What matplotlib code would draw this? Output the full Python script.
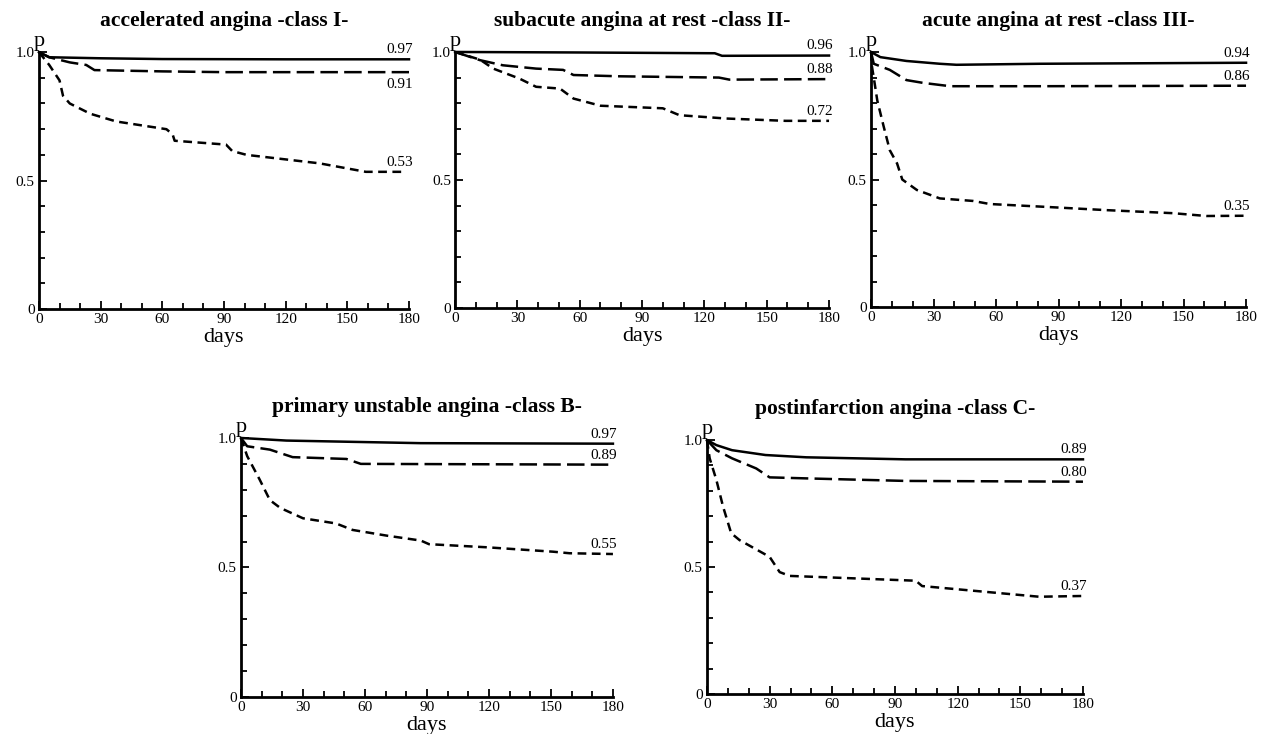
import numpy as np
import matplotlib
matplotlib.use('Agg')
import matplotlib.pyplot as plt
from matplotlib.ticker import MultipleLocator

plt.rcParams['font.family'] = ['Liberation Serif', 'DejaVu Serif']

titles = ['accelerated angina -class I-',
          'subacute angina at rest -class II-',
          'acute angina at rest -class III-',
          'primary unstable angina -class B-',
          'postinfarction angina -class C-']

# (days, survival): solid, long dash, short dash
p1_solid_x = [0, 5, 30, 60, 120, 180]
p1_solid_y = [1.0, 0.98, 0.976, 0.973, 0.972, 0.972]
p1_long_x = [0, 5, 15, 23, 27, 60, 90, 180]
p1_long_y = [1.0, 0.98, 0.96, 0.95, 0.93, 0.925, 0.922, 0.922]
p1_short_x = [0, 5, 10, 11.7, 15, 25, 37.6, 62, 65, 66, 91, 94, 101, 136.5, 159, 178]
p1_short_y = [1.0, 0.95, 0.89, 0.83, 0.80, 0.76, 0.73, 0.70, 0.68, 0.655, 0.64, 0.615, 0.60, 0.567, 0.534, 0.534]

p2_solid_x = [0, 60, 125, 128.5, 180]
p2_solid_y = [1.0, 0.998, 0.995, 0.985, 0.986]
p2_long_x = [0, 12, 23, 39, 52, 57, 79, 127, 132, 180]
p2_long_y = [1.0, 0.968, 0.948, 0.935, 0.93, 0.91, 0.905, 0.90, 0.892, 0.894]
p2_short_x = [0, 12, 18.4, 31, 39, 50.5, 57, 70, 100, 108, 130.6, 159, 180]
p2_short_y = [1.0, 0.97, 0.935, 0.896, 0.864, 0.857, 0.818, 0.79, 0.78, 0.753, 0.74, 0.731, 0.731]

p3_solid_x = [0, 4.5, 17, 33, 41, 81, 180]
p3_solid_y = [1.0, 0.98, 0.965, 0.954, 0.95, 0.954, 0.958]
p3_long_x = [0, 1.3, 9, 17, 25, 38, 81, 180]
p3_long_y = [1.0, 0.954, 0.93, 0.89, 0.879, 0.866, 0.866, 0.868]
p3_short_x = [0, 0.5, 1.3, 3, 6, 9, 12.5, 15, 22, 33, 49, 57, 81, 113, 145, 161, 180]
p3_short_y = [1.0, 0.94, 0.90, 0.81, 0.71, 0.615, 0.563, 0.50, 0.459, 0.426, 0.416, 0.404, 0.394, 0.38, 0.368, 0.357, 0.358]

p4_solid_x = [0, 22, 87, 180]
p4_solid_y = [1.0, 0.99, 0.98, 0.978]
p4_long_x = [0, 3, 14, 25, 51, 58, 180]
p4_long_y = [1.0, 0.968, 0.955, 0.926, 0.919, 0.90, 0.897]
p4_short_x = [0, 3, 9, 14, 19, 30, 46, 54, 70.5, 87, 91, 119, 151, 159, 180]
p4_short_y = [1.0, 0.93, 0.84, 0.76, 0.73, 0.69, 0.67, 0.645, 0.623, 0.604, 0.59, 0.578, 0.561, 0.555, 0.552]

p5_solid_x = [0, 4.5, 12, 28, 47.5, 95, 180]
p5_solid_y = [1.0, 0.98, 0.96, 0.941, 0.932, 0.924, 0.924]
p5_long_x = [0, 4.5, 12, 23.6, 30, 47.5, 95, 180]
p5_long_y = [1.0, 0.96, 0.928, 0.888, 0.853, 0.849, 0.839, 0.836]
p5_short_x = [0, 1.3, 4.5, 7.7, 11.6, 15.6, 30, 34.8, 39.6, 71.5, 100, 103, 127, 159, 180]
p5_short_y = [1.0, 0.928, 0.843, 0.738, 0.633, 0.606, 0.54, 0.48, 0.465, 0.455, 0.446, 0.425, 0.407, 0.383, 0.386]

end_labels = [['0.97', '0.91', '0.53'],
              ['0.96', '0.88', '0.72'],
              ['0.94', '0.86', '0.35'],
              ['0.97', '0.89', '0.55'],
              ['0.89', '0.80', '0.37']]

series = [
    [(p1_solid_x, p1_solid_y), (p1_long_x, p1_long_y), (p1_short_x, p1_short_y)],
    [(p2_solid_x, p2_solid_y), (p2_long_x, p2_long_y), (p2_short_x, p2_short_y)],
    [(p3_solid_x, p3_solid_y), (p3_long_x, p3_long_y), (p3_short_x, p3_short_y)],
    [(p4_solid_x, p4_solid_y), (p4_long_x, p4_long_y), (p4_short_x, p4_short_y)],
    [(p5_solid_x, p5_solid_y), (p5_long_x, p5_long_y), (p5_short_x, p5_short_y)],
]

# axes rectangles in figure fraction
rects = [[0.0307, 0.579, 0.2916, 0.350],
         [0.3586, 0.5804, 0.2947, 0.3488],
         [0.6864, 0.5817, 0.2955, 0.3474],
         [0.1899, 0.0504, 0.2931, 0.3529],
         [0.5571, 0.0545, 0.2963, 0.346]]

# label placement relative to curve end (True = above)
label_above = [[True, False, True],
               [True, True, True],
               [True, True, True],
               [True, True, True],
               [True, True, True]]

styles = [dict(ls='-'), dict(ls=(0, (7, 2.5))), dict(ls=(0, (3.5, 2.2)))]

fig = plt.figure(figsize=(12.69, 7.34), dpi=100)

for i in range(5):
    ax = fig.add_axes(rects[i])
    for j, (xs, ys) in enumerate(series[i]):
        ax.plot(xs, ys, color='black', lw=1.8, clip_on=False, **styles[j])
        off = 0.012 if label_above[i][j] else -0.075
        ax.text(182, ys[-1] + off, end_labels[i][j], ha='right', va='bottom',
                fontsize=11)
    ax.set_xlim(0, 180)
    ax.set_ylim(0, 1)
    for s in ['top', 'right']:
        ax.spines[s].set_visible(False)
    for s in ['left', 'bottom']:
        ax.spines[s].set_linewidth(2)
    ax.xaxis.set_major_locator(MultipleLocator(30))
    ax.xaxis.set_minor_locator(MultipleLocator(10))
    ax.set_yticks([0, 0.5, 1.0])
    ax.set_yticklabels(['0', '0.5', '1.0'])
    ax.yaxis.set_minor_locator(MultipleLocator(0.1))
    ax.tick_params(which='both', direction='in', width=1.3, labelsize=11, pad=3)
    ax.tick_params(which='major', length=6)
    ax.tick_params(which='minor', length=4)
    ax.set_xlabel('days', fontsize=16, labelpad=1)
    ax.set_title(titles[i], fontsize=15.5, fontweight='bold', pad=19)
    ax.text(0, 1.005, 'p', ha='center', va='bottom', fontsize=16,
            transform=ax.transAxes)

fig.savefig('out.png', dpi=100, facecolor='white')
